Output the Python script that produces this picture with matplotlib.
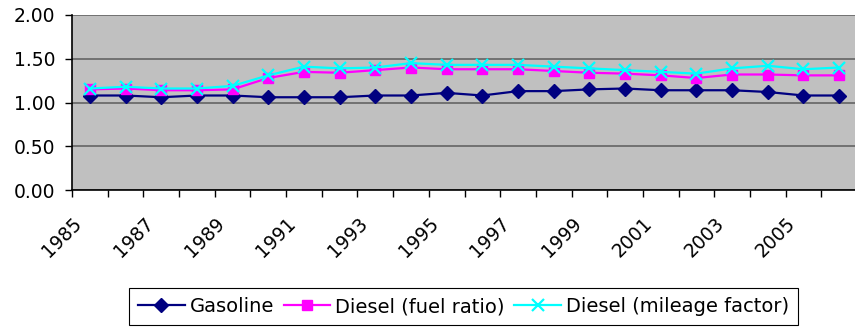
import numpy as np
import matplotlib
matplotlib.use("Agg")
import matplotlib.pyplot as plt
from matplotlib.transforms import ScaledTranslation, blended_transform_factory

years = list(range(1985, 2007))
gasoline = [1.08, 1.08, 1.06, 1.08, 1.08, 1.06, 1.06, 1.06,
            1.08, 1.08, 1.11, 1.08, 1.13, 1.13, 1.15, 1.16,
            1.14, 1.14, 1.14, 1.12, 1.08, 1.08]
diesel_fuel_ratio = [1.15, 1.16, 1.14, 1.14, 1.15, 1.28, 1.35, 1.34,
                     1.37, 1.40, 1.38, 1.38, 1.38, 1.36, 1.34, 1.33,
                     1.31, 1.28, 1.32, 1.32, 1.31, 1.31]
diesel_mileage = [1.16, 1.18, 1.16, 1.16, 1.19, 1.31, 1.41, 1.39,
                  1.40, 1.45, 1.43, 1.43, 1.43, 1.41, 1.39, 1.37,
                  1.35, 1.33, 1.39, 1.42, 1.38, 1.40]
y_ticks = [0.0, 0.5, 1.0, 1.5, 2.0]

plt.rcParams['font.family'] = ['DejaVu Sans']

W, H = 855, 327
fig = plt.figure(figsize=(W / 100, H / 100), dpi=100)
fig.patch.set_facecolor('white')
ax = fig.add_axes([72 / W, 1 - 190 / H, 785 / W, 175 / H])
ax.set_facecolor('#C0C0C0')

x = np.arange(len(years))
ax.plot(x, gasoline, color='#000080', lw=1.6, marker='D', ms=7,
        mfc='#000080', mec='#000080', label='Gasoline', zorder=3)
ax.plot(x, diesel_fuel_ratio, color='#FF00FF', lw=1.6, marker='s', ms=6.5,
        mfc='#FF00FF', mec='#FF00FF', label='Diesel (fuel ratio)', zorder=4)
ax.plot(x, diesel_mileage, color='#00FFFF', lw=1.6, marker='x', ms=8, mew=1.6,
        mfc='#00FFFF', mec='#00FFFF', label='Diesel (mileage factor)', zorder=5)

ax.set_xlim(-0.5, len(years) - 0.5)
ax.set_ylim(0, 2)

# value axis
ax.set_yticks(y_ticks)
ax.set_yticklabels([f"{v:.2f}" for v in y_ticks], fontsize=13.5)
ax.tick_params(axis='y', direction='out', length=5, width=1, pad=7, color='black')
ax.set_axisbelow(True)
ax.yaxis.grid(True, color='#5c5c5c', lw=1.1)

# category axis: ticks between categories, every other year labelled
ax.set_xticks(np.arange(-0.5, len(years), 1), minor=True)
ax.set_xticks([])
ax.tick_params(axis='x', which='minor', direction='out', length=5, width=1, color='black')
off = ScaledTranslation(-11 / 100, -31 / 100, fig.dpi_scale_trans)
trans = blended_transform_factory(ax.transData, ax.transAxes) + off
for i, yr in enumerate(years):
    if i % 2 == 0:
        ax.text(i, 0, str(yr), transform=trans, rotation=45,
                rotation_mode='anchor', ha='right', va='center',
                fontsize=13.5, clip_on=False)

for side in ('top', 'right'):
    ax.spines[side].set_visible(False)
for side in ('left', 'bottom'):
    ax.spines[side].set_color('black')
    ax.spines[side].set_linewidth(1.2)

leg = ax.legend(loc='upper center', bbox_to_anchor=(463.5 / W, 1 - 288.3 / H),
                bbox_transform=fig.transFigure, ncol=3, fontsize=14,
                frameon=True, fancybox=False, shadow=False,
                borderpad=0.45, borderaxespad=0, handlelength=2.4,
                handletextpad=0.25, columnspacing=0.5, framealpha=1)
leg.get_frame().set_edgecolor('black')
leg.get_frame().set_linewidth(0.8)

fig.savefig('out.png', dpi=100, facecolor='white')
